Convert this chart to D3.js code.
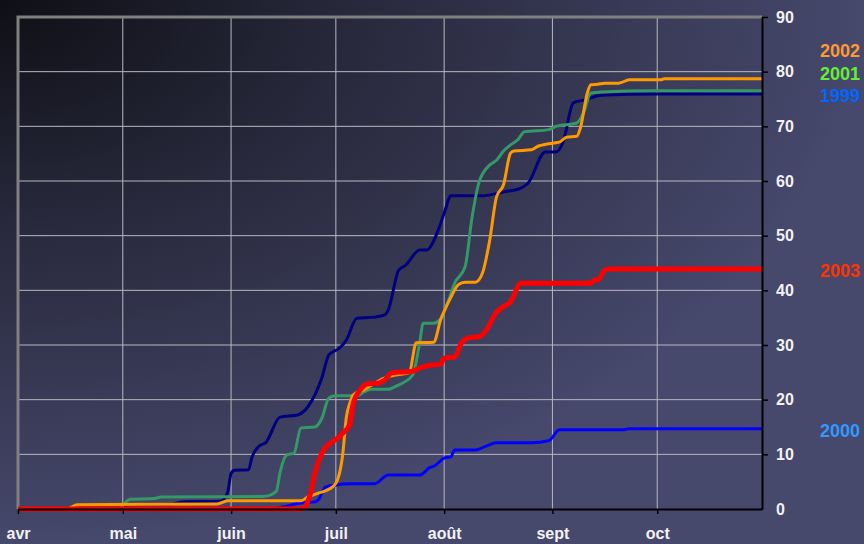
<!DOCTYPE html>
<html>
<head>
<meta charset="utf-8">
<script src="https://cdn.jsdelivr.net/npm/d3@7"></script>
<style>
	body { margin: 0; background: #46486b; }
	svg { display: block; }
</style>
</head>
<body>
<svg id="chart" width="864" height="544"></svg>
<script>
// cumulative values, one [day, value] pair per reading
var s1999 = [["04-01",0],["05-01",0],["05-02",0.8],["05-08",0.85],["05-15",0.9],["05-18",1.3],["05-29",1.4],["05-31",3],["06-01",6.5],["06-02",7.1],["06-06",7.2],["06-07",9.5],["06-09",11.5],["06-11",12.2],["06-15",16.8],["06-20",17.2],["06-23",18.7],["06-27",24],["06-29",28.2],["07-02",29.4],["07-04",30.9],["07-07",34.9],["07-12",35.1],["07-15",35.5],["07-16",36.4],["07-19",43.7],["07-21",44.6],["07-25",47.4],["07-27",47.4],["07-30",50.5],["08-01",54.1],["08-03",57.3],["08-12",57.3],["08-18",58],["08-23",58.7],["08-25",59.6],["08-30",65.3],["09-02",65.3],["09-04",67],["09-07",74.3],["09-10",74.8],["09-15",75.7],["09-30",75.9],["10-31",75.9]];
var s2000 = [["04-01",0],["06-13",0],["06-16",0.4],["06-21",1.1],["06-25",1.3],["06-26",1.7],["06-28",4],["07-01",4.4],["07-05",4.6],["07-12",4.6],["07-16",6.2],["07-25",6.2],["07-28",7.6],["07-29",7.8],["08-01",9.3],["08-03",9.6],["08-04",10.8],["08-10",10.8],["08-13",11.5],["08-16",12.1],["08-26",12.1],["08-31",12.5],["09-03",14.5],["09-21",14.5],["09-23",14.7],["10-31",14.7]];
var s2001 = [["04-01",0],["04-30",0],["05-01",0.6],["05-03",1.8],["05-10",1.9],["05-12",2.2],["06-10",2.3],["06-12",2.5],["06-14",3.3],["06-15",6.6],["06-17",9.9],["06-19",10.2],["06-21",14.8],["06-25",15],["06-27",16.6],["06-29",20.3],["07-01",20.7],["07-07",20.7],["07-09",21.4],["07-11",21.9],["07-16",21.9],["07-18",22.4],["07-20",23],["07-23",24.5],["07-25",30.4],["07-26",34],["07-29",34],["07-31",34.8],["08-02",37.7],["08-04",41.3],["08-07",44.3],["08-09",53.4],["08-11",59.8],["08-14",62.9],["08-16",63.8],["08-18",65.5],["08-20",66.6],["08-22",67.5],["08-24",69],["08-31",69.4],["09-02",70],["09-08",70.6],["09-10",72.6],["09-12",76.1],["09-15",76.3],["09-30",76.5],["10-31",76.5]];
var s2002 = [["04-01",0],["04-15",0],["04-18",0.8],["05-28",0.9],["05-31",1.5],["06-21",1.5],["06-23",2.2],["06-26",2.9],["06-29",3.6],["07-01",4.7],["07-03",10.2],["07-04",16.8],["07-05",19.4],["07-06",20.9],["07-09",21.8],["07-15",24],["07-18",24.5],["07-22",24.9],["07-24",30.4],["07-29",30.5],["07-31",34.6],["08-03",38.8],["08-05",41],["08-07",41.5],["08-10",41.5],["08-12",43.2],["08-14",49],["08-16",57.1],["08-18",59.3],["08-20",65.1],["08-21",65.5],["08-26",65.7],["08-28",66.4],["09-02",67],["09-03",67.1],["09-05",68],["09-08",68.2],["09-09",69.7],["09-11",76.1],["09-12",77.6],["09-14",77.7],["09-16",77.9],["09-20",77.9],["09-23",78.5],["10-02",78.5],["10-03",78.7],["10-31",78.7]];
var s2003 = [["04-01",0],["06-21",0],["06-22",0.3],["06-24",3.5],["06-25",6.6],["06-27",10.2],["06-28",11.2],["06-30",12.3],["07-02",13.2],["07-03",13.9],["07-05",15.4],["07-06",19.4],["07-08",21.8],["07-10",22.9],["07-13",23],["07-15",23.6],["07-17",24.9],["07-23",25.2],["07-25",25.8],["07-28",26.3],["07-31",26.5],["08-01",27.6],["08-04",27.8],["08-06",30.4],["08-08",31.3],["08-11",31.5],["08-13",32.7],["08-16",36],["08-18",37],["08-20",37.9],["08-23",41.3],["09-12",41.3],["09-13",41.9],["09-14",41.9],["09-16",43.7],["09-18",43.9],["10-31",43.9]];

var years = ["1999", "2000", "2001", "2002", "2003"];
var lineColors = ["#000080", "#0000ff", "#339966", "#ff9900", "#ff0000"];
var labelColors = ["#0066ff", "#3399ff", "#66ee33", "#ff9933", "#ff3300"];
var monthDays = ["04-01", "05-01", "06-01", "07-01", "08-01", "09-01", "10-01"];
var monthLabels = ["avr", "mai", "juin", "juil", "août", "sept", "oct"];
var yTicks = [0, 10, 20, 30, 40, 50, 60, 70, 80, 90];

var parse = d3.timeParse("%Y-%m-%d");
var day = function(s) { return parse("2001-" + s); };

var series = [s1999, s2000, s2001, s2002, s2003].map(function(s, i) {
	return { year: years[i], line: lineColors[i], label: labelColors[i],
		values: s.map(function(p) { return { date: day(p[0]), v: p[1] }; }) };
});

var svg = d3.select("#chart");
var W = 864, H = 544;
var pLeft = 18, pRight = 762, pTop = 17, pBottom = 509;

var x = d3.scaleTime().domain([day("04-01"), day("10-31")]).range([pLeft, pRight]);
var y = d3.scaleLinear().domain([0, 90]).range([pBottom, pTop]);

// background, dark in the top left corner
var defs = svg.append("defs");
var grad = defs.append("radialGradient")
	.attr("id", "bg")
	.attr("cx", 0).attr("cy", 0).attr("r", 1)
	.attr("fx", 0).attr("fy", 0);
grad.append("stop").attr("offset", 0).attr("stop-color", "#0f0f16");
grad.append("stop").attr("offset", 0.45).attr("stop-color", "#2a2b3f");
grad.append("stop").attr("offset", 1).attr("stop-color", "#46486c");
svg.append("rect").attr("width", W).attr("height", H).attr("fill", "url(#bg)");

// grid
var grid = svg.append("g");
grid.selectAll(".hg").data(yTicks.filter(function(d) { return d > 0 && d < 90; }))
	.enter().append("line")
	.attr("x1", pLeft).attr("x2", pRight)
	.attr("y1", function(d) { return y(d); }).attr("y2", function(d) { return y(d); })
	.attr("stroke", "#b8b8c0").attr("stroke-width", 1);
grid.selectAll(".vg").data(monthDays.slice(1))
	.enter().append("line")
	.attr("x1", function(d) { return x(day(d)); }).attr("x2", function(d) { return x(day(d)); })
	.attr("y1", pTop).attr("y2", pBottom)
	.attr("stroke", "#b8b8c0").attr("stroke-width", 1);
// gray frame on top and left
grid.append("path")
	.attr("d", "M" + pLeft + "," + pBottom + "V" + pTop + "H" + pRight)
	.attr("fill", "none").attr("stroke", "#808080").attr("stroke-width", 3);

// lines
var line = d3.line()
	.x(function(d) { return x(d.date); })
	.y(function(d) { return y(d.v); })
	.curve(d3.curveMonotoneX);
svg.append("g").selectAll("path").data(series).enter().append("path")
	.attr("d", function(d) { return line(d.values); })
	.attr("fill", "none")
	.attr("stroke", function(d) { return d.line; })
	.attr("stroke-width", function(d) { return d.year === "2003" ? 5 : 3; })
	.attr("stroke-linejoin", "round");

// axes
var xAxis = svg.append("g")
	.attr("transform", "translate(0," + pBottom + ")")
	.call(d3.axisBottom(x)
		.tickValues(monthDays.map(day))
		.tickFormat(function(d, i) { return monthLabels[i]; })
		.tickSize(5).tickSizeOuter(0).tickPadding(14));
var yAxis = svg.append("g")
	.attr("transform", "translate(" + pRight + ",0)")
	.call(d3.axisRight(y).tickValues(yTicks).tickSize(6).tickSizeOuter(0).tickPadding(8));

[xAxis, yAxis].forEach(function(a) {
	a.select(".domain").attr("stroke", "#000").attr("stroke-width", 2);
	a.selectAll(".tick line").attr("stroke", "#000").attr("stroke-width", 1.5);
	a.selectAll("text")
		.attr("fill", "#f2f2f2")
		.attr("font-family", "'Liberation Sans', Arial, sans-serif")
		.attr("font-weight", "bold")
		.attr("font-size", 16);
});
yAxis.selectAll(".tick").filter(function(d) { return d === 0; }).select("line").remove();

// year labels at the end of each line, pushed apart when they overlap
var labels = series.map(function(s) {
	return { s: s, y: y(s.values[s.values.length - 1].v) + 2 };
}).sort(function(a, b) { return b.y - a.y; });
for (var i = 1; i < labels.length; i++) {
	if (labels[i].y > labels[i - 1].y - 22.5) labels[i].y = labels[i - 1].y - 22.5;
}
svg.append("g").selectAll("text").data(labels).enter().append("text")
	.attr("x", 860)
	.attr("y", function(d) { return d.y; })
	.attr("dy", "0.35em")
	.attr("text-anchor", "end")
	.attr("fill", function(d) { return d.s.label; })
	.attr("font-family", "'Liberation Sans', Arial, sans-serif")
	.attr("font-weight", "bold")
	.attr("font-size", 18)
	.text(function(d) { return d.s.year; });
</script>
</body>
</html>
